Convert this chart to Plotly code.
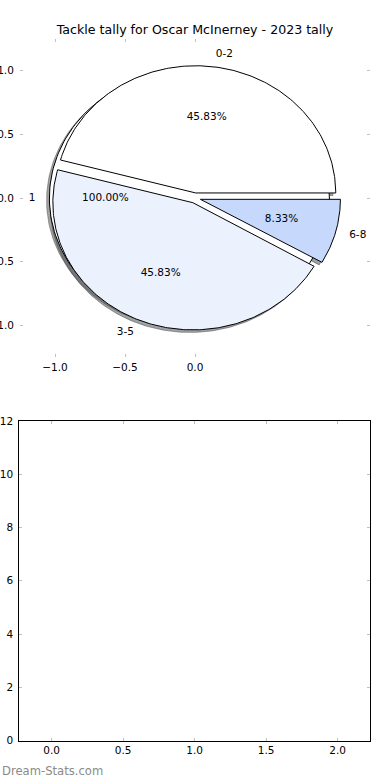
import numpy as np
import plotly.graph_objects as go

# ---- data ----
title_text = "Tackle tally for Oscar McInerney - 2023 tally"
labels = ["0-2", "3-5", "6-8"]
values = [11, 11, 2]
colors = ["#ffffff", "#ebf1fd", "#c6d9fd"]
base_labels = ["1"]
base_values = [1]
base_colors = ["#ffffff"]
pie_xticks = [-1.0, -0.5, 0.0]
pie_yticks = [1.0, 0.5, 0.0, -0.5, -1.0]
bar_xticks = [0.0, 0.5, 1.0, 1.5, 2.0]
bar_yticks = [0, 2, 4, 6, 8, 10, 12]
watermark = "Dream-Stats.com"

# ---- style ----
EXPLODE = 0.04
SHADOW = (-0.02, -0.02)
FONT = "DejaVu Sans"
FS = 10.5
TICKC = "#c0c0c0"
W, H = 390, 780


def hex_rgb(h):
    h = h.lstrip("#")
    return [int(h[i:i + 2], 16) for i in (0, 2, 4)]


def wedge_geoms(vals, explode):
    total = float(sum(vals))
    out = []
    t1 = 0.0
    for v in vals:
        frac = v / total
        t2 = t1 + 360.0 * frac
        tm = np.radians((t1 + t2) / 2.0)
        cx, cy = explode * np.cos(tm), explode * np.sin(tm)
        out.append(dict(t1=t1, t2=t2, tm=tm, cx=cx, cy=cy, frac=frac))
        t1 = t2
    return out


def poly(g, dx=0.0, dy=0.0):
    th = np.radians(np.linspace(g["t1"], g["t2"], 200))
    xs = g["cx"] + np.cos(th)
    ys = g["cy"] + np.sin(th)
    if g["t2"] - g["t1"] < 359.999:
        xs = np.concatenate([[g["cx"]], xs, [g["cx"]]])
        ys = np.concatenate([[g["cy"]], ys, [g["cy"]]])
    return xs + dx, ys + dy


base_g = wedge_geoms(base_values, EXPLODE)
main_g = wedge_geoms(values, EXPLODE)
all_g = list(zip(base_g, base_colors, base_labels)) + list(zip(main_g, colors, labels))

fig = go.Figure()

# shadows first (behind all wedges)
for g, c, _ in all_g:
    r, gg, b = [int(0.3 * v) for v in hex_rgb(c)]
    col = f"rgba({r},{gg},{b},0.5)"
    xs, ys = poly(g, *SHADOW)
    fig.add_trace(go.Scatter(x=xs, y=ys, mode="lines", fill="toself", fillcolor=col,
                             line=dict(color=col, width=1), hoverinfo="skip",
                             xaxis="x", yaxis="y"))

# wedges
for g, c, _ in all_g:
    xs, ys = poly(g)
    fig.add_trace(go.Scatter(x=xs, y=ys, mode="lines", fill="toself", fillcolor=c,
                             line=dict(color="black", width=1), hoverinfo="skip",
                             xaxis="x", yaxis="y"))

# texts
for g, c, lab in all_g:
    xt = g["cx"] + 1.1 * np.cos(g["tm"])
    yt = g["cy"] + 1.1 * np.sin(g["tm"])
    pos = "middle right" if xt > 0 else "middle left"
    fig.add_trace(go.Scatter(x=[xt], y=[yt], mode="text", text=[lab], textposition=pos,
                             textfont=dict(family=FONT, size=FS, color="black"),
                             hoverinfo="skip", xaxis="x", yaxis="y"))
    xp = g["cx"] + 0.6 * np.cos(g["tm"])
    yp = g["cy"] + 0.6 * np.sin(g["tm"])
    fig.add_trace(go.Scatter(x=[xp], y=[yp], mode="text", text=[f"{100 * g['frac']:.2f}%"],
                             textposition="middle center",
                             textfont=dict(family=FONT, size=FS, color="black"),
                             hoverinfo="skip", xaxis="x", yaxis="y"))

# empty bottom axes
fig.add_trace(go.Scatter(x=[], y=[], mode="markers", xaxis="x2", yaxis="y2", hoverinfo="skip"))

tickfont = dict(family=FONT, size=FS, color="black")
common = dict(ticks="inside", ticklen=3, tickcolor=TICKC, tickwidth=1, showgrid=False,
              zeroline=False, tickfont=tickfont, fixedrange=True, automargin=False)

fig.update_layout(
    width=W, height=H, autosize=False,
    margin=dict(l=0, r=0, t=0, b=0, autoexpand=False),
    paper_bgcolor="white", plot_bgcolor="white",
    showlegend=False,
    title=dict(text=title_text, x=0.5, xanchor="center", y=1 - 30 / H, yanchor="middle",
               font=dict(family=FONT, size=12.6, color="black"), automargin=False),
    xaxis=dict(domain=[20 / W, 370 / W], range=[-1.25, 1.25], tickvals=pie_xticks,
               tickformat=".1f", showline=True, linecolor="rgba(0,0,0,0)", mirror="ticks",
               anchor="y", ticklabelstandoff=0, **common),
    yaxis=dict(domain=[1 - 357 / H, 1 - 39 / H], range=[-1.25, 1.25], tickvals=pie_yticks,
               tickformat=".1f", showline=True, linecolor="rgba(0,0,0,0)", mirror="ticks",
               anchor="x", ticklabelstandoff=3, **common),
    xaxis2=dict(domain=[19.3 / W, 370 / W], range=[-0.226, 2.226], tickvals=bar_xticks,
                tickformat=".1f", showline=True, linecolor="black", linewidth=1, mirror="ticks",
                anchor="y2", ticklabelstandoff=0, **common),
    yaxis2=dict(domain=[1 - 740.5 / H, 1 - 421 / H], range=[0, 12], tickvals=bar_yticks,
                tickformat="d", showline=True, linecolor="black", linewidth=1, mirror="ticks",
                anchor="x2", ticklabelstandoff=3, **common),
    annotations=[dict(text=watermark, x=0, xref="paper", xanchor="left",
                      y=1 - 770.5 / H, yref="paper", yanchor="middle", showarrow=False,
                      font=dict(family=FONT, size=11.6, color="#8a8a8a"))],
)

fig.write_html("out.html", config={"displayModeBar": False},
               post_script="document.body.style.margin='0px';document.body.style.overflow='hidden';")
